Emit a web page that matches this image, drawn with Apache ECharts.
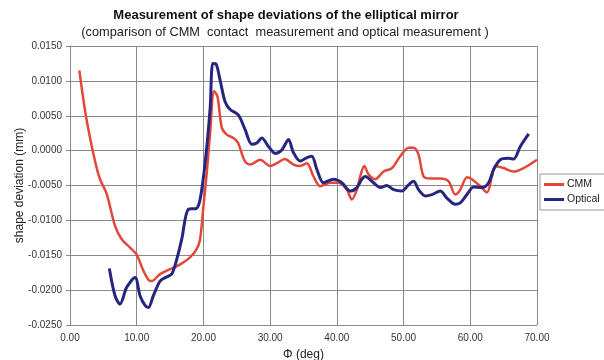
<!DOCTYPE html>
<html>
<head>
<meta charset="utf-8">
<script src="https://cdn.jsdelivr.net/npm/echarts@6/dist/echarts.min.js"></script>
<style>
html,body{margin:0;padding:0;background:#fff;}
#chart{width:604px;height:360px;}
</style>
</head>
<body>
<div id="chart"></div>
<script>
const titleText = "Measurement of shape deviations of the elliptical mirror";
const subtitleText = "(comparison of CMM  contact  measurement and optical measurement )";
const xAxisName = "\u03a6 (deg)";
const yAxisName = "shape deviation (mm)";
const seriesNames = ["CMM", "Optical"];

const cmmAngle = [1.4, 2.4, 3.75, 4.5, 5.5, 6.75, 7.75, 9.0, 10.0, 10.9, 11.75, 12.25, 13.5, 15.0, 16.5, 18.0, 19.0, 19.5, 20.0, 20.5, 21.0, 21.6, 22.1, 22.75, 23.5, 24.5, 25.2, 26.2, 27.0, 28.5, 30.0, 31.0, 32.2, 33.5, 34.5, 35.5, 36.5, 37.5, 39.0, 40.25, 41.5, 42.25, 43.0, 43.5, 44.1, 44.75, 45.75, 47.0, 48.25, 49.5, 50.75, 51.5, 52.25, 53.0, 54.0, 55.5, 56.75, 57.75, 58.5, 59.5, 60.25, 61.5, 62.5, 63.25, 63.75, 65.0, 66.5, 68.0, 70.0];
const cmmDeviation = [0.0115, 0.0049, -0.0015, -0.0041, -0.0062, -0.0108, -0.0127, -0.0139, -0.0149, -0.0170, -0.0185, -0.0187, -0.0177, -0.0170, -0.0163, -0.0153, -0.0141, -0.0127, -0.0080, -0.0032, 0.0025, 0.0085, 0.0078, 0.0033, 0.0023, 0.0018, 0.0011, -0.0015, -0.0020, -0.0013, -0.0022, -0.0018, -0.0012, -0.0020, -0.0022, -0.0018, -0.0037, -0.0051, -0.0046, -0.0046, -0.0056, -0.0070, -0.0056, -0.0037, -0.0022, -0.0034, -0.0041, -0.0030, -0.0025, -0.0008, 0.0004, 0.0004, -0.0006, -0.0037, -0.0040, -0.0040, -0.0044, -0.0063, -0.0056, -0.0038, -0.0041, -0.0051, -0.0060, -0.0037, -0.0022, -0.0025, -0.0030, -0.0025, -0.0013];

const opticalAngle = [5.9, 6.75, 7.5, 8.5, 9.75, 10.5, 11.25, 11.75, 12.5, 13.5, 14.5, 15.25, 16.0, 16.75, 17.75, 18.9, 19.5, 20.25, 21.0, 21.4, 21.9, 22.5, 23.25, 24.0, 25.25, 26.25, 27.25, 28.0, 28.75, 29.75, 30.75, 31.75, 32.75, 33.5, 34.5, 35.5, 36.25, 37.0, 38.0, 39.5, 40.75, 42.0, 43.0, 43.75, 44.25, 45.5, 46.5, 47.5, 48.5, 49.75, 50.75, 51.5, 52.25, 53.25, 54.25, 55.5, 56.5, 57.75, 58.5, 59.5, 60.5, 61.75, 62.75, 63.5, 64.5, 65.75, 66.5, 67.5, 68.75];
const opticalDeviation = [-0.0169, -0.0208, -0.0220, -0.0196, -0.0182, -0.0208, -0.0222, -0.0225, -0.0208, -0.0187, -0.0181, -0.0177, -0.0156, -0.0127, -0.0084, -0.0083, -0.0070, -0.0018, 0.0060, 0.0125, 0.0124, 0.0101, 0.0070, 0.0059, 0.0051, 0.0030, 0.0009, 0.0011, 0.0018, 0.0006, -0.0004, 0.0001, 0.0016, -0.0003, -0.0015, -0.0010, -0.0008, -0.0027, -0.0046, -0.0041, -0.0046, -0.0058, -0.0053, -0.0041, -0.0037, -0.0046, -0.0053, -0.0050, -0.0056, -0.0058, -0.0049, -0.0044, -0.0056, -0.0065, -0.0063, -0.0058, -0.0068, -0.0077, -0.0075, -0.0063, -0.0052, -0.0053, -0.0046, -0.0027, -0.0013, -0.0011, -0.0012, 0.0006, 0.0024];

const zip = (xs, ys) => xs.map((x, i) => [x, ys[i]]);
const FONT = "Liberation Sans, Arial, sans-serif";
const gridColor = "#8a8a8a";

const chart = echarts.init(document.getElementById('chart'), null, {renderer: 'canvas'});
chart.setOption({
  animation: false,
  backgroundColor: '#fff',
  title: [
    {text: titleText, left: 286, textAlign: 'center', top: 9, padding: 0,
     textStyle: {fontFamily: FONT, fontSize: 13, fontWeight: 'bold', color: '#111'}},
    {text: subtitleText, left: 285, textAlign: 'center', top: 26, padding: 0,
     textStyle: {fontFamily: FONT, fontSize: 12.8, fontWeight: 'normal', color: '#222'}}
  ],
  legend: {
    orient: 'vertical', left: 540, top: 174,
    padding: [5, 8, 5, 4], itemGap: 4,
    borderColor: '#9a9a9a', borderWidth: 1,
    itemWidth: 20, itemHeight: 3, icon: 'rect',
    textStyle: {fontFamily: FONT, fontSize: 10.5, color: '#222', padding: [0, 0, 0, -2]},
    data: seriesNames
  },
  grid: {left: 70, right: 67, top: 46, bottom: 35, containLabel: false, outerBoundsMode: 'none'},
  xAxis: {
    type: 'value', min: 0, max: 70, interval: 10,
    name: xAxisName, nameLocation: 'middle', nameGap: 24, nameMoveOverlap: false,
    nameTextStyle: {fontFamily: FONT, fontSize: 12, color: '#222'},
    axisLine: {show: true, lineStyle: {color: gridColor}},
    axisTick: {show: true, length: 4, lineStyle: {color: gridColor}},
    axisLabel: {fontFamily: FONT, fontSize: 10, color: '#333', margin: 8,
                formatter: v => v.toFixed(2)},
    splitLine: {show: true, lineStyle: {color: gridColor, width: 1}}
  },
  yAxis: {
    type: 'value', min: -0.025, max: 0.015, interval: 0.005,
    name: yAxisName, nameLocation: 'middle', nameGap: 44, nameMoveOverlap: false,
    nameTextStyle: {fontFamily: FONT, fontSize: 12, color: '#222'},
    axisLine: {show: true, lineStyle: {color: gridColor}},
    axisTick: {show: true, length: 4, lineStyle: {color: gridColor}},
    axisLabel: {fontFamily: FONT, fontSize: 10, color: '#333', margin: 8,
                formatter: v => v.toFixed(4)},
    splitLine: {show: true, lineStyle: {color: gridColor, width: 1}}
  },
  series: [
    {name: seriesNames[0], type: 'line', data: zip(cmmAngle, cmmDeviation),
     showSymbol: false, smooth: 0.3, color: '#e2483a',
     lineStyle: {width: 2.5, color: '#e2483a'}},
    {name: seriesNames[1], type: 'line', data: zip(opticalAngle, opticalDeviation),
     showSymbol: false, smooth: 0.3, color: '#262680',
     lineStyle: {width: 3, color: '#262680'}}
  ]
});
</script>
</body>
</html>
